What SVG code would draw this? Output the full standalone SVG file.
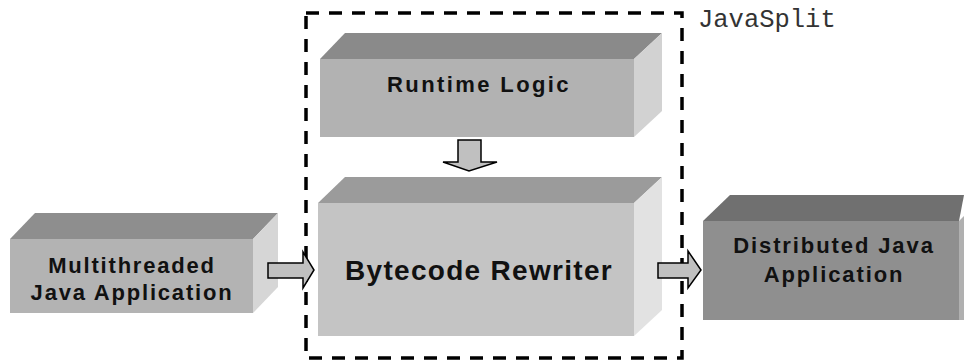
<svg xmlns="http://www.w3.org/2000/svg" width="964" height="360" viewBox="0 0 964 360">
<style>
.lbl{font-family:"Liberation Sans",Arial,sans-serif;font-weight:bold;fill:#111;text-anchor:middle}
.arr{fill:#c0c0c0;stroke:#000;stroke-width:1.5;stroke-linejoin:miter}
.frame{fill:none;stroke:#000;stroke-width:3.5;stroke-dasharray:13 10}
</style>
<rect width="964" height="360" fill="#fff"/>
<g id="javasplit-frame">
<rect class="frame" x="306" y="13" width="376" height="345"/>
<text x="698" y="27" font-family="'Liberation Mono','Courier New',monospace" font-size="25.5" fill="#333">JavaSplit</text>
</g>
<g id="multithreaded">
<polygon points="10,239 35,213 278,213 253,239" fill="#8e8e8e"/>
<polygon points="253,239 278,213 278,287 253,313" fill="#d6d6d6"/>
<rect x="10" y="239" width="243" height="74" fill="#b3b3b3"/>
<text class="lbl" x="132" y="273" font-size="22" letter-spacing="1.8">Multithreaded</text>
<text class="lbl" x="132" y="300" font-size="22" letter-spacing="1.8">Java Application</text>
</g>
<g id="runtime-logic">
<polygon points="320,59 345,33 662,33 634,59" fill="#8a8a8a"/>
<polygon points="634,59 662,33 662,111 634,137" fill="#d2d2d2"/>
<rect x="320" y="59" width="314" height="78" fill="#b2b2b2"/>
<text class="lbl" x="479" y="92" font-size="22" letter-spacing="2.4">Runtime Logic</text>
</g>
<g id="bytecode-rewriter">
<polygon points="318,203 345,177 662,177 634,203" fill="#9b9b9b"/>
<polygon points="634,203 662,177 662,310 634,336" fill="#e2e2e2"/>
<rect x="318" y="203" width="316" height="133" fill="#c4c4c4"/>
<text class="lbl" x="479" y="280" font-size="28" letter-spacing="1.3">Bytecode Rewriter</text>
</g>
<g id="distributed">
<polygon points="703,221 730,195 964,195 959,221" fill="#707070"/>
<polygon points="959,221 964,216 964,320 959,320" fill="#b0b0b0"/>
<rect x="703" y="221" width="256" height="99" fill="#8f8f8f"/>
<text class="lbl" x="834" y="253" font-size="22" letter-spacing="1.9">Distributed Java</text>
<text class="lbl" x="834" y="282" font-size="22" letter-spacing="1.9">Application</text>
</g>
<g id="connectors">
<polygon class="arr" points="268,263 303,263 303,252 314,270 303,288 303,278 268,278"/>
<polygon class="arr" points="658,263 688,263 688,251 701,270 688,288 688,278 658,278"/>
<polygon class="arr" points="458,140 481,140 481,162 497,162 469,171 443,162 458,162"/>
</g>
</svg>
